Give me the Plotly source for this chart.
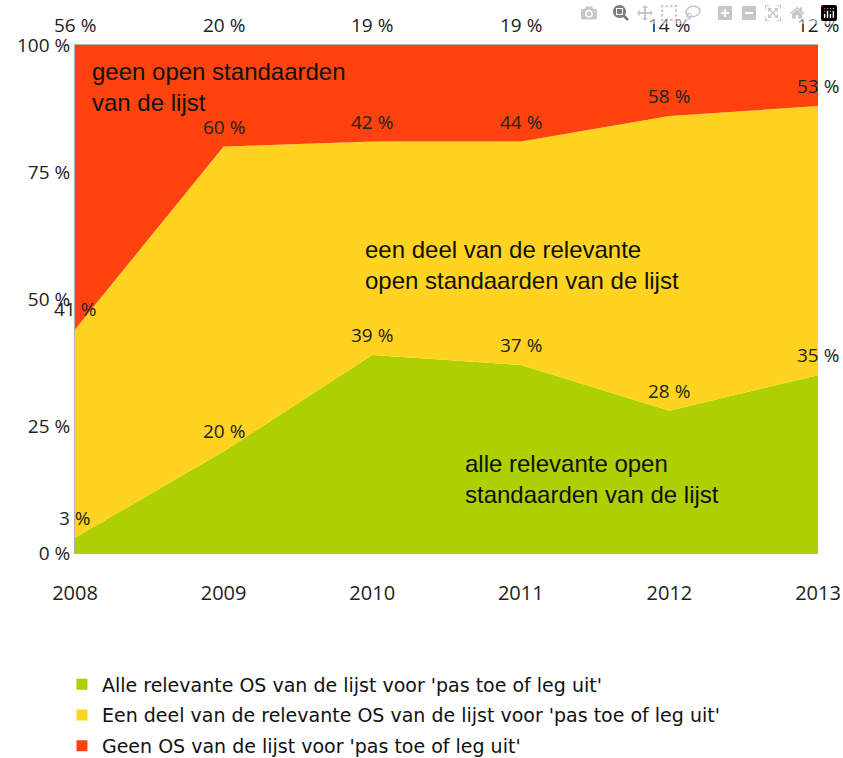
import plotly.graph_objects as go

years = [2008, 2009, 2010, 2011, 2012, 2013]
alle = [3, 20, 39, 37, 28, 35]
deel = [41, 60, 42, 44, 58, 53]
geen = [56, 20, 19, 19, 14, 12]
y_ticks = [0, 25, 50, 75, 100]

series_names = [
    "Alle relevante OS van de lijst voor 'pas toe of leg uit'",
    "Een deel van de relevante OS van de lijst voor 'pas toe of leg uit'",
    "Geen OS van de lijst voor 'pas toe of leg uit'",
]
colors = ["#AECF00", "#FFD320", "#FF420E"]
series = [alle, deel, geen]

fig = go.Figure()

# stacked areas
for vals, name, col in zip(series, series_names, colors):
    fig.add_trace(go.Scatter(
        x=years, y=vals, name=name, stackgroup="one",
        mode="none", fillcolor=col, showlegend=False,
        hoverinfo="skip"
    ))

# square legend markers
for i, (name, col) in enumerate(zip(series_names, colors)):
    fig.add_trace(go.Scatter(
        x=[None], y=[None], mode="markers", name=name,
        legendgroup=str(i),
        marker=dict(symbol="square", size=11, color=col)
    ))

# value labels just above each band's top edge
cum = [0] * len(years)
for vals in series:
    cum = [c + v for c, v in zip(cum, vals)]
    for x, top, v in zip(years, cum, vals):
        fig.add_annotation(
            x=x, y=top, text=f"{v} %", showarrow=False,
            yshift=20, font=dict(family="Open Sans", size=19, color="#222222")
        )

# band descriptions
band_font = dict(family="Liberation Sans, Arial", size=24, color="#111111")
fig.add_annotation(x=2008.1, y=91.8, text="geen open standaarden<br>van de lijst",
                   showarrow=False, xanchor="left", yanchor="middle", align="left",
                   font=band_font)
fig.add_annotation(x=2009.94, y=56.6, text="een deel van de relevante<br>open standaarden van de lijst",
                   showarrow=False, xanchor="left", yanchor="middle", align="left",
                   font=band_font)
fig.add_annotation(x=2010.61, y=14.5, text="alle relevante open<br>standaarden van de lijst",
                   showarrow=False, xanchor="left", yanchor="middle", align="left",
                   font=band_font)

fig.update_layout(
    width=843, height=758,
    margin=dict(l=75, r=25, t=45, b=205, autoexpand=False),
    plot_bgcolor="white", paper_bgcolor="white",
    xaxis=dict(
        range=[2008, 2013], tickvals=years, showgrid=False, zeroline=False,
        showline=True, linecolor="#b3b3b3", mirror=True, automargin=False,
        ticks="", ticklabelstandoff=22,
        tickfont=dict(family="Open Sans", size=20, color="#222222")
    ),
    yaxis=dict(
        range=[0, 100], tickvals=y_ticks, ticktext=[f"{t} %" for t in y_ticks],
        showgrid=False, zeroline=False, showline=True, linecolor="#b3b3b3",
        ticks="", automargin=False,
        tickfont=dict(family="Open Sans", size=19, color="#222222")
    ),
    legend=dict(
        orientation="v", xref="container", yref="container",
        x=0.0735, y=0.122, xanchor="left", yanchor="top",
        traceorder="grouped", tracegroupgap=3, itemwidth=30,
        font=dict(family="DejaVu Sans", size=19, color="#111111")
    ),
)

# drop the page margin and scrollbars so the figure fills the window
fig.write_html(
    "out.html",
    post_script="document.body.style.margin='0';"
                "document.documentElement.style.overflow='hidden';"
                "document.body.style.overflow='hidden';"
)
